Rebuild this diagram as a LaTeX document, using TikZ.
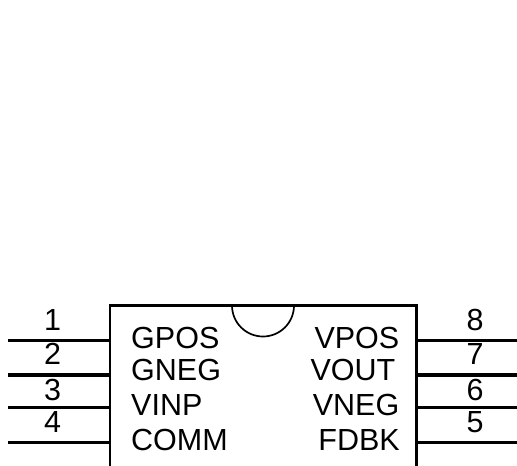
\documentclass[tikz,border=0pt]{standalone}
\usepackage{fontspec}
\setmainfont{Liberation Sans}
\tikzset{
    pin/.style={line width=3.8pt},
    body/.style={line width=2.3pt},
    lbl/.style={inner sep=0pt, font=\fontsize{30.5}{31}\selectfont},
    num/.style={lbl, anchor=base}
}

\begin{document}
\begin{tikzpicture}[x=1pt,y=-1pt]
        \useasboundingbox (0,0) rectangle (517,466);

        % chip outline, runs off the bottom of the page
        \coordinate (bodyBL) at (110,466);
        \coordinate (bodyTL) at (110,305.5);
        \coordinate (bodyTR) at (416.5,305.5);
        \coordinate (bodyBR) at (416.5,466);
        \coordinate (notchL) at (232,305.5);
        \draw[body] (bodyBL) -- (bodyTL) -- (bodyTR) -- (bodyBR);
        \draw[line width=1.7pt] (notchL) arc[start angle=180, end angle=360, radius=31pt];

        % pins on both sides
        \foreach \n/\m/\y/\ny in {1/8/340.5/330, 2/7/375/364.5, 3/6/407.5/400, 4/5/442.5/432} {
            \coordinate (leftEnd\n) at (8,\y);
            \coordinate (leftPin\n) at (110,\y);
            \coordinate (rightPin\m) at (416.5,\y);
            \coordinate (rightEnd\m) at (517,\y);
            \draw[pin] (leftEnd\n) -- (leftPin\n);
            \draw[pin] (rightPin\m) -- (rightEnd\m);
            \node[num] (num\n) at (52.5,\ny) {\n};
            \node[num] (num\m) at (475,\ny) {\m};
        }

        % signal names
        \foreach \name/\y in {GPOS/348.5, GNEG/380, VINP/415, COMM/450} {
            \node[lbl, anchor=base west] (\name) at (131,\y) {\name};
        }
        \node[lbl, anchor=base east] (VPOS) at (399.5,348.5) {VPOS};
        \node[lbl, anchor=base east] (VOUT) at (395.5,380) {VOUT};
        \node[lbl, anchor=base east] (VNEG) at (399.5,415) {VNEG};
        \node[lbl, anchor=base east] (FDBK) at (400,450) {FDBK};
    \end{tikzpicture}
\end{document}
